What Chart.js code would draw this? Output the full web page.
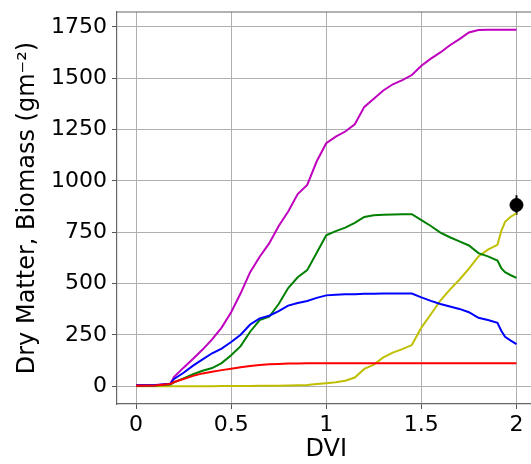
<!DOCTYPE html>
<html>
<head>
<meta charset="utf-8">
<script src="https://cdn.jsdelivr.net/npm/chart.js@4/dist/chart.umd.min.js"></script>
<style>
html,body{margin:0;padding:0;background:#fff;overflow:hidden;}
#wrap{width:545px;height:464px;}
</style>
</head>
<body>
<div id="wrap"><canvas id="c" width="545" height="464"></canvas></div>
<script>
// Shared DVI grid (x values)
const dvi = [0, 0.1, 0.18, 0.2, 0.25, 0.3, 0.35, 0.4, 0.45, 0.5, 0.55, 0.6, 0.65, 0.7, 0.75, 0.8, 0.85, 0.9, 0.95, 1.0, 1.05, 1.1, 1.15, 1.2, 1.25, 1.3, 1.35, 1.4, 1.45, 1.5, 1.55, 1.6, 1.65, 1.7, 1.75, 1.8, 1.85, 1.9, 1.92, 1.94, 1.97, 2.0];

const magentaSeries = [5, 6, 10, 45, 90, 133, 178, 228, 285, 360, 452, 555, 630, 695, 780, 850, 935, 980, 1095, 1183, 1215, 1240, 1275, 1360, 1400, 1440, 1470, 1490, 1515, 1560, 1595, 1625, 1660, 1690, 1722, 1734, 1735, 1735, 1735, 1735, 1735, 1735];
const greenSeries   = [2, 3, 8, 18, 38, 58, 75, 88, 112, 150, 195, 265, 322, 338, 400, 478, 530, 565, 650, 735, 755, 772, 795, 824, 832, 835, 836, 837, 837, 808, 780, 748, 725, 705, 685, 648, 632, 612, 575, 555, 540, 527];
const blueSeries    = [3, 4, 12, 35, 65, 100, 130, 160, 183, 215, 250, 300, 330, 343, 365, 392, 405, 415, 430, 442, 445, 447, 448, 450, 450, 451, 451, 451, 451, 432, 415, 400, 388, 376, 360, 333, 322, 308, 270, 240, 222, 205];
const redSeries     = [2, 3, 10, 20, 35, 50, 62, 70, 78, 85, 92, 98, 103, 106, 108, 110, 110, 111, 111, 111, 111, 111, 111, 111, 111, 111, 111, 111, 111, 111, 111, 111, 111, 111, 111, 111, 111, 111, 111, 111, 111, 111];
const yellowSeries  = [0, 0, 0, 0, 0, 0, 0, 0, 1, 1, 1, 1, 2, 2, 2, 3, 4, 6, 10, 14, 19, 26, 42, 84, 105, 140, 163, 180, 200, 285, 350, 417, 470, 518, 572, 632, 665, 688, 755, 800, 825, 842];

// Observation with error bar
const obsDvi = [2.0];
const obsValue = [882];
const obsLow = [835];
const obsHigh = [930];

const xTickValues = [0, 0.5, 1, 1.5, 2];
const yTickValues = [0, 250, 500, 750, 1000, 1250, 1500, 1750];
const xLabel = 'DVI';
const yLabel = 'Dry Matter, Biomass (gm\u207B\u00B2)';

const pts = arr => dvi.map((x, i) => ({x: x, y: arr[i]}));
const lineDs = (arr, color) => ({data: pts(arr), borderColor: color, backgroundColor: color, borderWidth: 2, pointRadius: 0, showLine: true, tension: 0});

const errData = [];
obsDvi.forEach((x, i) => { errData.push({x: x, y: obsLow[i]}); errData.push({x: x, y: obsHigh[i]}); });

const topSpine = {
  id: 'topSpine',
  afterDraw(chart) {
    const a = chart.chartArea, ctx = chart.ctx;
    ctx.save();
    ctx.strokeStyle = '#666';
    ctx.lineWidth = 1.2;
    ctx.beginPath();
    ctx.moveTo(a.left, a.top);
    ctx.lineTo(a.right, a.top);
    ctx.stroke();
    ctx.restore();
  }
};

const FONT = 'DejaVu Sans';
new Chart(document.getElementById('c'), {
  type: 'scatter',
  data: {
    datasets: [
      lineDs(redSeries, '#ff0000'),
      lineDs(blueSeries, '#0000ff'),
      lineDs(greenSeries, '#008000'),
      lineDs(yellowSeries, '#bfbf00'),
      lineDs(magentaSeries, '#bf00bf'),
      {data: errData, borderColor: '#000', borderWidth: 2, pointRadius: 0, showLine: true},
      {data: obsDvi.map((x, i) => ({x: x, y: obsValue[i]})), backgroundColor: '#000', borderColor: '#000', pointRadius: 6.5, showLine: false}
    ]
  },
  options: {
    responsive: false,
    animation: false,
    layout: {padding: {left: 0, right: 9.5, top: 12, bottom: 0}},
    plugins: {legend: {display: false}, tooltip: {enabled: false}},
    scales: {
      x: {
        type: 'linear', min: -0.1, max: 2.1,
        afterFit: s => { s.height = 60; s.paddingLeft = 0; s.paddingRight = 0; },
        afterBuildTicks: s => { s.ticks = xTickValues.map(v => ({value: v})); },
        ticks: {font: {family: FONT, size: 22}, color: '#000', padding: 3, maxRotation: 0,
                callback: v => String(v)},
        grid: {color: '#b0b0b0', lineWidth: 1, tickColor: '#555', tickLength: 5},
        border: {color: '#666', width: 1.2},
        title: {display: true, text: xLabel, color: '#000', font: {family: FONT, size: 24}, padding: {top: 0, bottom: 0}}
      },
      y: {
        type: 'linear', min: -87, max: 1822,
        afterFit: s => { s.width = 117; s.paddingTop = 0; s.paddingBottom = 0; },
        afterBuildTicks: s => { s.ticks = yTickValues.map(v => ({value: v})); },
        ticks: {font: {family: FONT, size: 22}, color: '#000', padding: 5,
                callback: v => String(v)},
        grid: {color: '#b0b0b0', lineWidth: 1, tickColor: '#555', tickLength: 5},
        border: {color: '#666', width: 1.2},
        title: {display: true, text: yLabel, color: '#000', font: {family: FONT, size: 24}, padding: {top: 13, bottom: 0}}
      }
    }
  },
  plugins: [topSpine]
});
</script>
</body>
</html>
